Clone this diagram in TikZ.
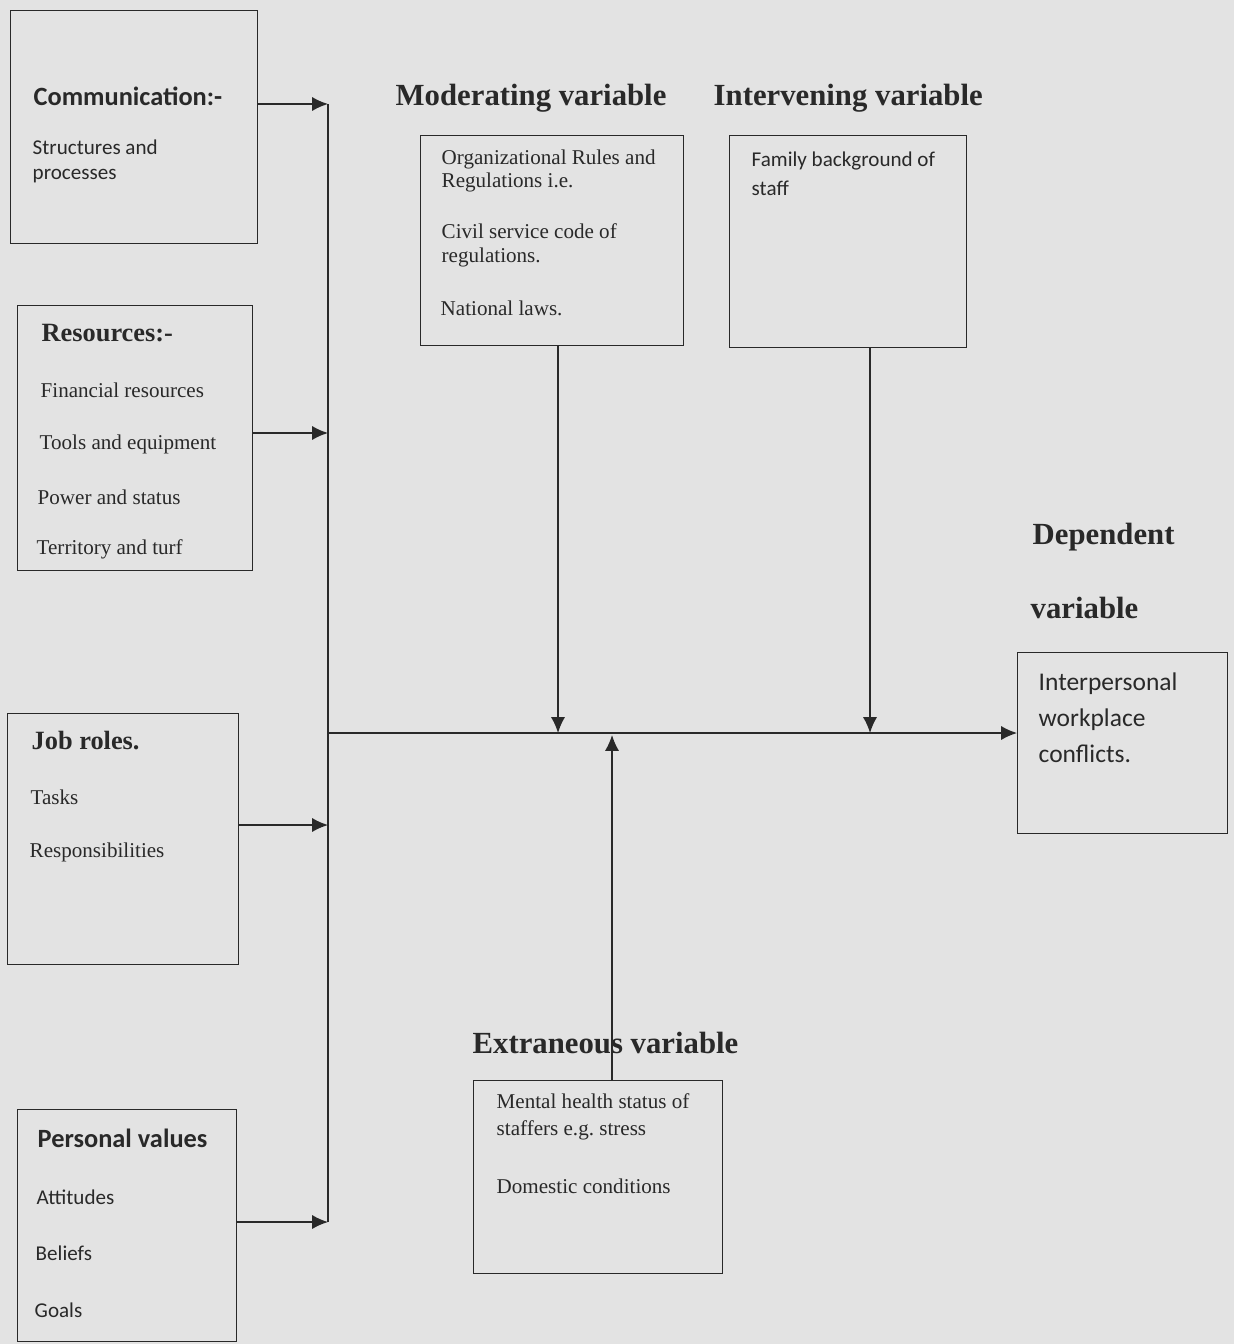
\documentclass[tikz,border=0pt]{standalone}
\usepackage{fontspec}
\setmainfont{Liberation Serif}
\newfontfamily\calibri{Carlito}
\usepackage{tikz}
\usetikzlibrary{arrows.meta}
\frenchspacing
\definecolor{paper}{gray}{0.89}
\definecolor{ink}{gray}{0.16}
\tikzstyle{frame} = [rectangle, draw=ink, thick, anchor=north west, inner sep=0pt]
\tikzstyle{head} = [anchor=west, inner sep=0pt, text=ink, font=\bfseries\fontsize{17.5}{20}\selectfont]
\tikzstyle{boxhead} = [anchor=west, inner sep=0pt, text=ink, font=\bfseries\fontsize{15}{18}\selectfont]
\tikzstyle{cboxhead} = [boxhead, font=\calibri\bfseries\fontsize{15}{18}\selectfont]
\tikzstyle{item} = [anchor=west, inner sep=0pt, align=left, text=ink, font=\fontsize{12}{13.6}\selectfont]
\tikzstyle{citem} = [item, font=\calibri\fontsize{12}{14.2}\selectfont]

\begin{document}
\begin{tikzpicture}[x=0.02cm,y=-0.02cm,->,>={Latex[length=9pt,width=8pt]},thick,draw=ink]
  \fill[paper] (0,0) rectangle (1234,1344);
  \useasboundingbox (0,0) rectangle (1234,1344);

  % boxes
  \node[frame, minimum width=4.94cm, minimum height=4.66cm] (comm) at (10,10) {};
  \node[frame, minimum width=4.70cm, minimum height=5.30cm] (res) at (17,305) {};
  \node[frame, minimum width=4.62cm, minimum height=5.02cm] (job) at (7,713) {};
  \node[frame, minimum width=4.38cm, minimum height=4.64cm] (pers) at (17,1109) {};
  \node[frame, minimum width=5.26cm, minimum height=4.20cm] (mod) at (420,135) {};
  \node[frame, minimum width=4.74cm, minimum height=4.24cm] (intv) at (729,135) {};
  \node[frame, minimum width=4.20cm, minimum height=3.62cm] (dep) at (1017,652) {};
  \node[frame, minimum width=4.98cm, minimum height=3.86cm] (extr) at (473,1080) {};

  % headings
  \node[head] (modHead) at (395,98) {Moderating variable};
  \node[head] (intvHead) at (713,98) {Intervening variable};
  \node[head] (depHead) at (1032,537) {Dependent};
  \node[head] (depHeadB) at (1030,608) {variable};
  \node[head] (extrHead) at (472,1043) {Extraneous variable};

  % box texts
  \node[cboxhead] (commHead) at (33,96) {Communication:-};
  \node[citem] (commA) at (32,161) {Structures and\\processes};

  \node[boxhead] (resHead) at (41,333) {Resources:-};
  \node[item] (resA) at (40,390) {Financial resources};
  \node[item] (resB) at (39,444) {Tools and equipment};
  \node[item] (resC) at (37,497) {Power and status};
  \node[item] (resD) at (36,549) {Territory and turf};

  \node[boxhead] (jobHead) at (31,741) {Job roles.};
  \node[item] (jobA) at (30,797) {Tasks};
  \node[item] (jobB) at (29,852) {Responsibilities};

  \node[cboxhead] (persHead) at (37,1138) {Personal values};
  \node[citem] (persA) at (36,1197) {Attitudes};
  \node[citem] (persB) at (35,1253) {Beliefs};
  \node[citem] (persC) at (34,1310) {Goals};

  \node[item] (modA) at (441,171) {Organizational Rules and\\Regulations i.e.};
  \node[item] (modB) at (441,245) {Civil service code of\\regulations.};
  \node[item] (modC) at (440,308) {National laws.};

  \node[citem, font=\calibri\fontsize{12}{16.4}\selectfont] (intvA) at (751,174) {Family background of\\staff};

  \node[citem, font=\calibri\fontsize{14.5}{20.4}\selectfont] (depA) at (1038,718) {Interpersonal\\workplace\\conflicts.};

  \node[item, font=\fontsize{12}{15.3}\selectfont] (extrA) at (496,1117) {Mental health status of\\staffers e.g. stress};
  \node[item] (extrB) at (496,1186) {Domestic conditions};

  % bus and joints
  \coordinate (busA) at (328,104);
  \coordinate (busB) at (328,433);
  \coordinate (busC) at (328,825);
  \coordinate (busD) at (328,1222);
  \coordinate (busM) at (328,733);
  \coordinate (modIn) at (558,733);
  \coordinate (intvIn) at (870,733);
  \coordinate (extrIn) at (612,735);

  \draw[-] (busA) -- (busD);
  \draw (comm.east |- busA) -- (busA);
  \draw (res.east |- busB) -- (busB);
  \draw (job.east |- busC) -- (busC);
  \draw (pers.east |- busD) -- (busD);
  \draw (busM) -- (dep.west |- busM);
  \draw (mod.south -| modIn) -- (modIn);
  \draw (intv.south -| intvIn) -- (intvIn);
  \draw (extr.north -| extrIn) -- (extrIn);
\end{tikzpicture}
\end{document}
